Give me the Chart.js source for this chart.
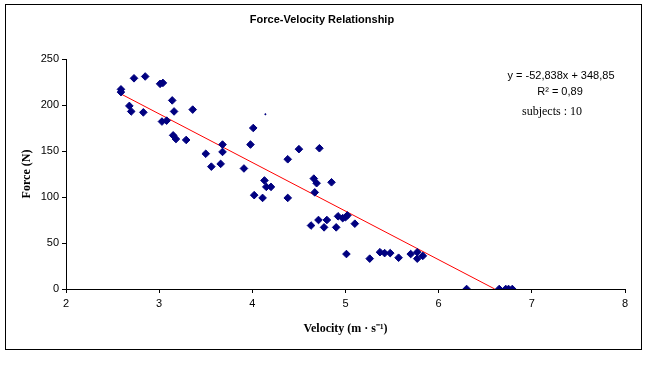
<!DOCTYPE html>
<html>
<head>
<meta charset="utf-8">
<script src="https://cdn.jsdelivr.net/npm/chart.js@4"></script>
<style>
  body { margin: 0; background: #fff; }
</style>
</head>
<body>
<canvas id="chart" width="671" height="367"></canvas>
<script>
// Measured points: velocity (m/s) and force (N)
const velocity = [
  2.59, 2.59, 2.68, 2.70, 2.73, 2.85, 2.83, 3.01, 3.04, 3.14, 3.16, 3.36, 3.03, 3.08, 3.15, 3.18, 3.29,
  3.50, 3.56, 3.66, 3.68, 3.68, 3.91, 3.98, 4.01, 4.02, 4.11, 4.13, 4.15, 4.20, 4.38, 4.38, 4.50, 4.72,
  4.66, 4.69, 4.67, 4.85, 4.63, 4.71, 4.77, 4.80, 4.90, 4.92, 4.97, 5.00, 5.02, 5.10, 5.01, 5.26, 5.37,
  5.42, 5.48, 5.57, 5.70, 5.77, 5.77, 5.83, 6.30, 6.65, 6.72, 6.75, 6.79
];
const force = [
  217, 214, 199, 193, 229, 231, 192, 223, 224, 205, 193, 195, 182, 183, 167, 163, 162,
  147, 133, 136, 157, 149, 131, 157, 175, 102, 99, 118, 111, 111, 141, 99, 152, 153,
  120, 115, 105, 116, 69, 75, 67, 75, 67, 79, 77, 78, 80, 71, 38, 33, 40,
  39, 39, 34, 38, 40, 33, 36, 0, 0, 0, 0, 0
];

// stray tiny mark
const strayVelocity = [4.14];
const strayForce = [190];

// linear trendline endpoints: y = -52.838x + 348.85
const trendVelocity = [2.59, 6.602];
const trendForce = [212.0, 0];

const xTicks = [2, 3, 4, 5, 6, 7, 8];
const yTicks = [0, 50, 100, 150, 200, 250];

const equationLines = ['y = -52,838x + 348,85', 'R² = 0,89'];
const subjectsLabel = 'subjects : 10';

const toPoints = (xs, ys) => xs.map((x, i) => ({ x: x, y: ys[i] }));

// Border, title and trendline text drawn on the canvas
const decorations = {
  id: 'decorations',
  beforeDraw(chart) {
    const c = chart.ctx;
    c.save();
    c.fillStyle = '#fff';
    c.fillRect(0, 0, chart.width, chart.height);
    c.strokeStyle = '#000';
    c.lineWidth = 1;
    c.strokeRect(5.5, 4.5, 636, 345);
    c.restore();
  },
  afterDraw(chart) {
    const c = chart.ctx;
    c.save();
    c.fillStyle = '#000';
    c.textAlign = 'center';
    c.textBaseline = 'middle';
    c.font = 'bold 11px "Liberation Sans", Arial, sans-serif';
    c.fillText('Force-Velocity Relationship', 322, 20);
    c.font = '11px "Liberation Sans", Arial, sans-serif';
    c.fillText(equationLines[0], 561, 76);
    c.fillText(equationLines[1], 560, 92);
    c.font = '12px "Liberation Serif", "Times New Roman", serif';
    c.fillText(subjectsLabel, 552, 112);
    c.restore();
  }
};

const ctx = document.getElementById('chart').getContext('2d');

new Chart(ctx, {
  type: 'scatter',
  data: {
    datasets: [
      {
        label: 'Force',
        data: toPoints(velocity, force),
        pointStyle: 'rectRot',
        radius: 3.8,
        backgroundColor: '#000080',
        borderColor: '#000080',
        borderWidth: 1
      },
      {
        label: 'Stray',
        data: toPoints(strayVelocity, strayForce),
        pointStyle: 'rectRot',
        radius: 1.2,
        backgroundColor: '#000080',
        borderColor: '#000080',
        borderWidth: 0
      },
      {
        label: 'Linear trend',
        type: 'line',
        data: toPoints(trendVelocity, trendForce),
        borderColor: '#ff0000',
        borderWidth: 1,
        pointRadius: 0,
        fill: false
      }
    ]
  },
  options: {
    responsive: false,
    animation: false,
    events: [],
    layout: { padding: { left: 8, top: 59, right: 46, bottom: 20 } },
    plugins: {
      legend: { display: false },
      tooltip: { enabled: false }
    },
    scales: {
      x: {
        type: 'linear',
        min: 2,
        max: 8,
        afterBuildTicks: scale => { scale.ticks = xTicks.map(v => ({ value: v })); },
        afterFit: scale => { scale.height = 367 - 289 - 20; },
        grid: { display: true, drawOnChartArea: false, drawTicks: true, tickLength: 4, color: '#000' },
        border: { display: true, color: '#000', width: 1 },
        ticks: {
          color: '#000',
          padding: 4,
          font: { size: 11, family: '"Liberation Sans", Arial, sans-serif' }
        },
        title: {
          display: true,
          text: 'Velocity (m · s⁻¹)',
          color: '#000',
          padding: { top: 0, bottom: 11 },
          font: { size: 12, weight: 'bold', family: '"Liberation Serif", "Times New Roman", serif' }
        }
      },
      y: {
        type: 'linear',
        min: 0,
        max: 250,
        afterBuildTicks: scale => { scale.ticks = yTicks.map(v => ({ value: v })); },
        afterFit: scale => { scale.width = 66 - 8; },
        grid: { display: true, drawOnChartArea: false, drawTicks: true, tickLength: 4, color: '#000' },
        border: { display: true, color: '#000', width: 1 },
        ticks: {
          color: '#000',
          padding: 3,
          font: { size: 11, family: '"Liberation Sans", Arial, sans-serif' }
        },
        title: {
          display: true,
          text: 'Force (N)',
          color: '#000',
          padding: { top: 12, bottom: 0 },
          font: { size: 12, weight: 'bold', family: '"Liberation Serif", "Times New Roman", serif' }
        }
      }
    }
  },
  plugins: [decorations]
});
</script>
</body>
</html>
